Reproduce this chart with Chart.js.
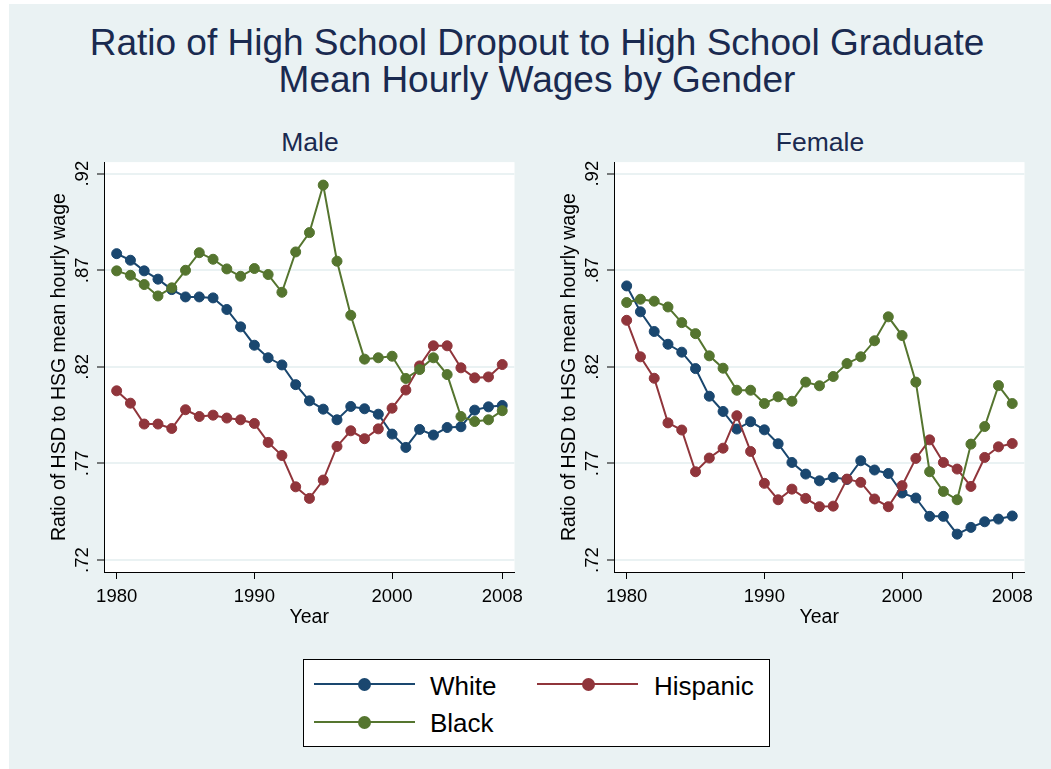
<!DOCTYPE html>
<html><head><meta charset="utf-8">
<script src="https://cdn.jsdelivr.net/npm/chart.js@4"></script>
<style>
body{margin:0;background:#fff;width:1051px;height:769px;overflow:hidden;font-family:'Liberation Sans',Arial,sans-serif;}
#bg{position:absolute;left:9px;top:4px;width:1042px;height:765px;background:#eaf2f3;}
#title{position:absolute;left:537px;top:25px;transform:translateX(-50%);white-space:nowrap;text-align:center;font-size:37px;line-height:36.7px;color:#1a2a50;}
.sub{position:absolute;top:129px;font-size:26.5px;line-height:27px;color:#1a2a50;transform:translateX(-50%);white-space:nowrap;}
canvas{position:absolute;}
#legend{position:absolute;left:303px;top:659px;width:465px;height:86px;background:#fff;border:1px solid #000;}
.lline{position:absolute;height:2px;width:101px;}
.lmark{position:absolute;width:13px;height:13px;border-radius:50%;}
.ltext{position:absolute;font-size:26px;line-height:26px;color:#000;white-space:nowrap;}
</style></head>
<body>
<div id="bg"></div>
<div id="title">Ratio of High School Dropout to High School Graduate<br>Mean Hourly Wages by Gender</div>
<div class="sub" id="subMale" style="left:310px">Male</div>
<div class="sub" id="subFemale" style="left:820px">Female</div>
<canvas id="cMale" width="490" height="490" style="left:40px;top:150px;width:490px;height:490px"></canvas>
<canvas id="cFemale" width="490" height="490" style="left:550px;top:150px;width:490px;height:490px"></canvas>
<div id="legend"></div>
<script>
const years = [1980,1981,1982,1983,1984,1985,1986,1987,1988,1989,1990,1991,1992,1993,1994,1995,1996,1997,1998,1999,2000,2001,2002,2003,2004,2005,2006,2007,2008];
const xTicks = [1980,1990,2000,2008];
const yTicks = [0.72,0.77,0.82,0.87,0.92];
const yTickLabels = ['.72','.77','.82','.87','.92'];
const seriesNames = ['White','Hispanic','Black'];
const panelNames = ['Male','Female'];

const maleWhite = [.8786,.8752,.8697,.8654,.8600,.8562,.8562,.8557,.8497,.8407,.8312,.8247,.8210,.8108,.8024,.7981,.7926,.7995,.7983,.7955,.7852,.7783,.7876,.7847,.7886,.7890,.7976,.7993,.8000];
const maleHispanic = [.8076,.8012,.7904,.7904,.7881,.7978,.7943,.7950,.7935,.7926,.7907,.7809,.7741,.7579,.7519,.7614,.7788,.7869,.7828,.7879,.7986,.8080,.8205,.8309,.8309,.8195,.8143,.8148,.8212];
const maleBlack = [.8697,.8674,.8626,.8567,.8609,.8700,.8791,.8757,.8707,.8669,.8709,.8678,.8586,.8795,.8895,.9141,.8747,.8467,.8240,.8247,.8255,.8140,.8186,.8247,.8160,.7943,.7917,.7926,.7973];

const femaleWhite = [.8619,.8485,.8383,.8317,.8276,.8191,.8048,.7969,.7878,.7916,.7874,.7802,.7705,.7645,.7610,.7628,.7617,.7714,.7666,.7648,.7547,.7521,.7426,.7426,.7334,.7369,.7398,.7412,.7428];
const femaleHispanic = [.8441,.8252,.8141,.7910,.7873,.7657,.7728,.7779,.7947,.7762,.7597,.7512,.7567,.7519,.7476,.7479,.7619,.7602,.7516,.7476,.7585,.7726,.7822,.7705,.7671,.7581,.7731,.7786,.7803];
const femaleBlack = [.8533,.8550,.8540,.8510,.8429,.8372,.8257,.8193,.8079,.8079,.8010,.8045,.8022,.8121,.8102,.8150,.8217,.8252,.8335,.8459,.8362,.8121,.7657,.7555,.7512,.7800,.7891,.8103,.8010];

const colors = ['#1a476f','#90353b','#55752f'];
const FONT = "'Liberation Sans', Arial, sans-serif";

function ds(name, vals, color, order){
  return {
    label: name,
    data: years.map((yr,i)=>({x:yr, y:vals[i]})),
    borderColor: color, backgroundColor: color,
    borderWidth: 2, pointRadius: 5, pointBorderWidth: 1,
    pointBorderColor: color, pointBackgroundColor: color,
    tension: 0, order: order
  };
}

function makePanel(id, white, hisp, black){
  return new Chart(document.getElementById(id), {
    type: 'line',
    data: { datasets: [
      ds(seriesNames[0], white, colors[0], 2),
      ds(seriesNames[1], hisp, colors[1], 1),
      ds(seriesNames[2], black, colors[2], 0)
    ]},
    options: {
      responsive: false, animation: false, devicePixelRatio: 1,
      layout: { padding: { left: 0, right: 6, top: 12, bottom: 0 } },
      plugins: { legend: { display: false }, tooltip: { enabled: false } },
      scales: {
        x: {
          type: 'linear', min: 1979.08, max: 2008.89,
          afterBuildTicks: s => { s.ticks = xTicks.map(v => ({value: v})); },
          afterFit: s => { s.height = 68; },
          ticks: { font: { family: FONT, size: 18.5 }, color: '#000', padding: 7, maxRotation: 0, autoSkip: false,
                   callback: v => String(v) },
          grid: { drawOnChartArea: false, tickColor: '#000', tickLength: 7, tickWidth: 1 },
          border: { display: true, color: '#000', width: 1 },
          title: { display: true, text: 'Year', font: { family: FONT, size: 19.5 }, color: '#000', padding: { top: 0, bottom: 11 } }
        },
        y: {
          type: 'linear', min: 0.7138, max: 0.926,
          afterBuildTicks: s => { s.ticks = yTicks.map(v => ({value: v})); },
          afterFit: s => { s.width = 64; },
          ticks: { font: { family: FONT, size: 18.5 }, color: '#000', padding: 1, minRotation: 90, maxRotation: 90,
                   crossAlign: 'center', autoSkip: false, callback: (v, i) => yTickLabels[i] },
          grid: { color: '#eaf2f3', lineWidth: 2, tickColor: '#000', tickWidth: 1, tickLength: 7 },
          border: { display: true, color: '#000', width: 1 },
          title: { display: true, text: 'Ratio of HSD to HSG mean hourly wage', font: { family: FONT, size: 19.5 }, color: '#000', padding: { top: 8, bottom: 0 } }
        }
      }
    },
    plugins: [{
      id: 'whiteArea',
      beforeDraw(chart){
        const a = chart.chartArea, c = chart.ctx;
        c.save(); c.fillStyle = '#fff'; c.fillRect(a.left, a.top, a.right - a.left, a.bottom - a.top); c.restore();
      }
    }]
  });
}

makePanel('cMale', maleWhite, maleHispanic, maleBlack);
makePanel('cFemale', femaleWhite, femaleHispanic, femaleBlack);

// legend
const legend = document.getElementById('legend');
const legendPos = [
  {lx: 10, mx: 54, tx: 126, ly: 23, ty: 13},
  {lx: 233, mx: 278, tx: 350, ly: 23, ty: 13},
  {lx: 10, mx: 54, tx: 126, ly: 61, ty: 50}
];
seriesNames.forEach((n, i) => {
  const p = legendPos[i];
  const l = document.createElement('div'); l.className = 'lline';
  l.style.left = p.lx + 'px'; l.style.top = p.ly + 'px'; l.style.background = colors[i];
  const m = document.createElement('div'); m.className = 'lmark';
  m.style.left = p.mx + 'px'; m.style.top = (p.ly - 5.5) + 'px'; m.style.background = colors[i];
  const t = document.createElement('div'); t.className = 'ltext';
  t.style.left = p.tx + 'px'; t.style.top = p.ty + 'px'; t.textContent = n;
  legend.appendChild(l); legend.appendChild(m); legend.appendChild(t);
});
</script>
</body></html>
